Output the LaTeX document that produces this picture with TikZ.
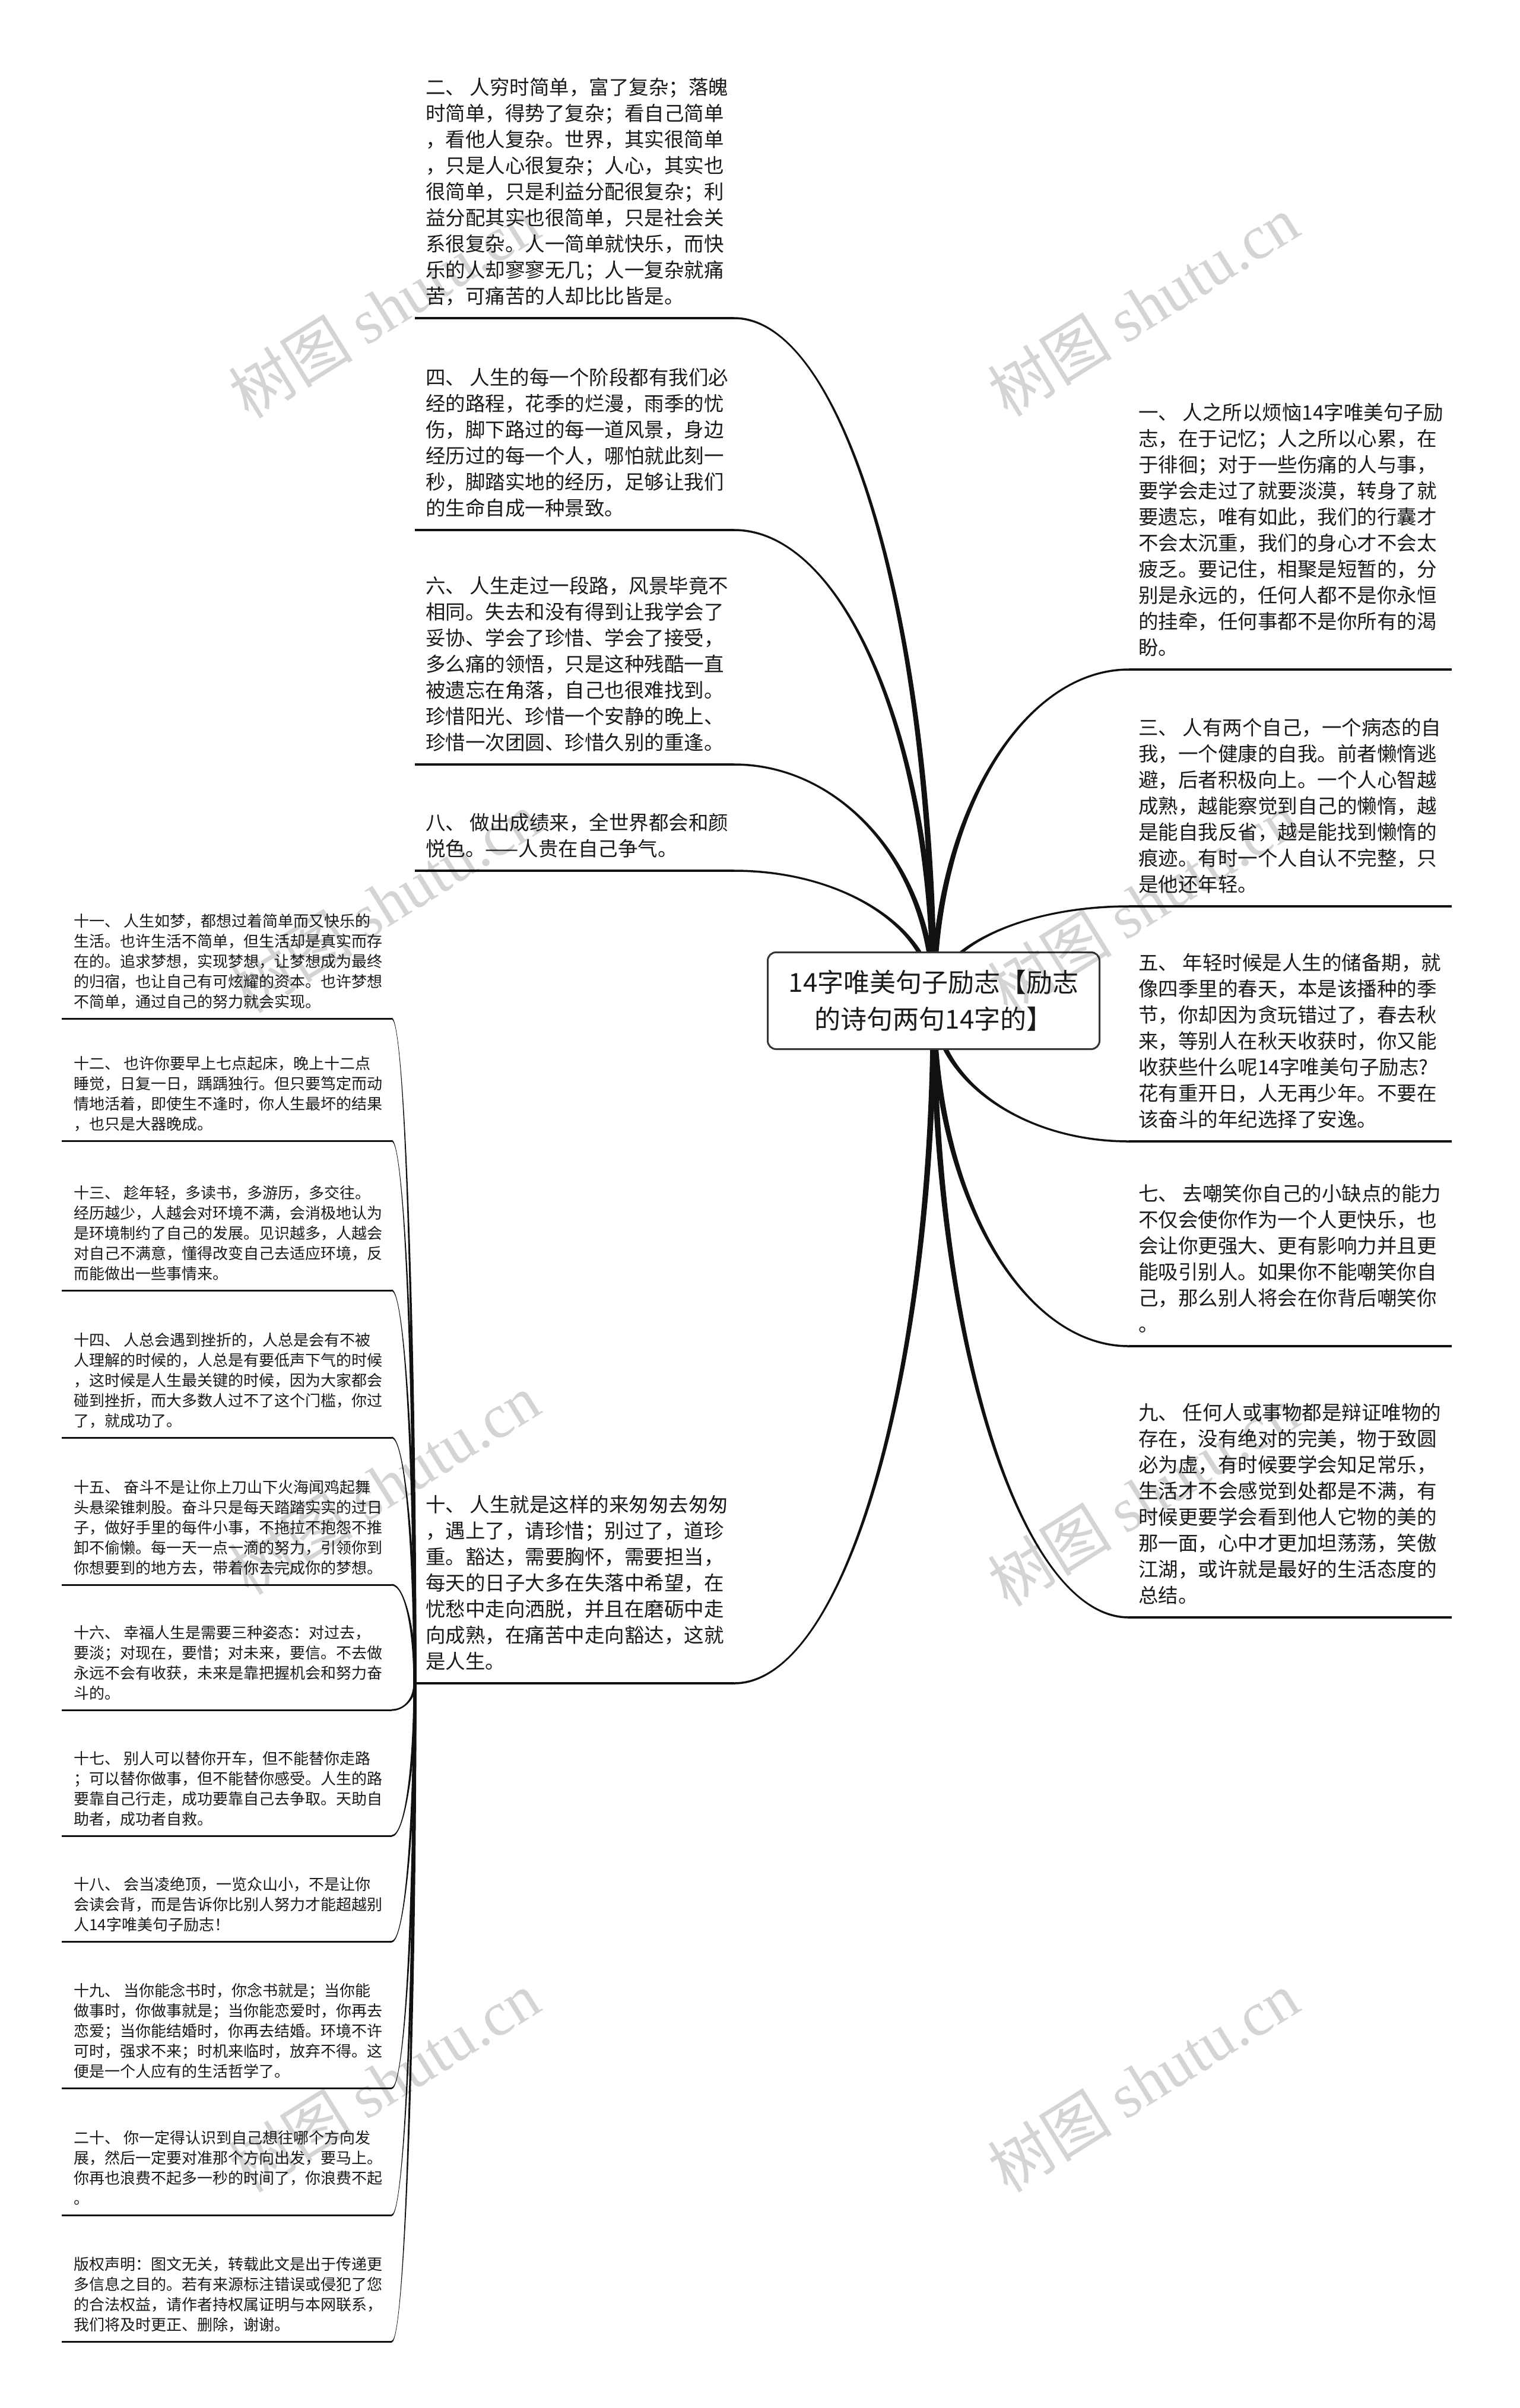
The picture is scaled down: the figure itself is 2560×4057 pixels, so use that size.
\documentclass[tikz,border=0pt]{standalone}
\usepackage{fontspec}
\setmainfont{Noto Sans CJK SC}
\newfontfamily\wmlat{Liberation Serif}
\usetikzlibrary{calc}
\definecolor{lc}{HTML}{111111}
\definecolor{txt}{HTML}{1A1A1A}
\tikzset{
  bigtxt/.style={anchor=south west, inner sep=0pt, align=left, text=txt, font=\fontsize{33.5}{44}\selectfont},
  smalltxt/.style={anchor=south west, inner sep=0pt, align=left, text=txt, font=\fontsize{26}{34}\selectfont},
  uline/.style={draw=lc, line width=3.5pt},
  sline/.style={draw=lc, line width=3pt},
  rootbox/.style={draw=lc!85, line width=3pt, fill=white, rounded corners=14pt, minimum width=559pt, minimum height=163pt, align=center, inner sep=0pt, text=txt, font=\fontsize{44}{62}\selectfont},
  wm/.style={rotate=32, text=black, text opacity=0.17, font=\fontsize{105}{105}\selectfont, inner sep=0pt}
}
% tapered curve from #1 (root, vertical tangent) to #2 (leaf, horizontal tangent)
\newcommand\branch[4]{%
\fill[lc] let \p1=(#1), \p2=(#2), \n1={sign(\x1-\x2)}, \n2={sign(\y2-\y1)} in
 ({\x1+\n1*#3},{\y1}) .. controls ({\x1+\n1*#3},{\y1+0.552*(\y2-\y1)}) and ({\x1+0.448*(\x2-\x1)},{\y2+\n2*#4}) .. ({\x2},{\y2+\n2*#4})
 -- ({\x2},{\y2-\n2*#4}) .. controls ({\x1+0.448*(\x2-\x1)},{\y2-\n2*#4}) and ({\x1-\n1*#3},{\y1+0.552*(\y2-\y1)}) .. ({\x1-\n1*#3},{\y1}) -- cycle;}
\begin{document}
\begin{tikzpicture}[x=1pt,y=-1pt]
\useasboundingbox (0,0) rectangle (2560,4057);
\fill[white] (0,0) rectangle (2560,4057);
\coordinate (root) at (1573,1686);
% right leaves
\coordinate (r1) at (1902,1128); \coordinate (r1e) at (2446,1128);
\coordinate (r3) at (1902,1527); \coordinate (r3e) at (2446,1527);
\coordinate (r5) at (1902,1923); \coordinate (r5e) at (2446,1923);
\coordinate (r7) at (1902,2268); \coordinate (r7e) at (2446,2268);
\coordinate (r9) at (1902,2725); \coordinate (r9e) at (2446,2725);
% left leaves
\coordinate (l2) at (1237,536);  \coordinate (l2e) at (699,536);
\coordinate (l4) at (1237,893);  \coordinate (l4e) at (699,893);
\coordinate (l6) at (1237,1288); \coordinate (l6e) at (699,1288);
\coordinate (l8) at (1237,1467); \coordinate (l8e) at (699,1467);
\coordinate (l10) at (1237,2836); \coordinate (l10e) at (699,2836);
% small leaves
\coordinate (s11) at (660,1716); \coordinate (s11e) at (104,1716);
\coordinate (s12) at (660,1922); \coordinate (s12e) at (104,1922);
\coordinate (s13) at (660,2174); \coordinate (s13e) at (104,2174);
\coordinate (s14) at (660,2422); \coordinate (s14e) at (104,2422);
\coordinate (s15) at (660,2670); \coordinate (s15e) at (104,2670);
\coordinate (s16) at (660,2881); \coordinate (s16e) at (104,2881);
\coordinate (s17) at (660,3093); \coordinate (s17e) at (104,3093);
\coordinate (s18) at (660,3271); \coordinate (s18e) at (104,3271);
\coordinate (s19) at (660,3518); \coordinate (s19e) at (104,3518);
\coordinate (s20) at (660,3732); \coordinate (s20e) at (104,3732);
\coordinate (scr) at (660,3945); \coordinate (scre) at (104,3945);

% connectors
\foreach \l in {r1,r3,r5,r7,r9,l2,l4,l6,l8,l10} {\branch{root}{\l}{5}{1.75}}
\foreach \l in {s11,s12,s13,s14,s15,s16,s17,s18,s19,s20,scr} {\branch{l10e}{\l}{2.6}{1.5}}
\foreach \l in {r1,r3,r5,r7,r9,l2,l4,l6,l8,l10} {\draw[uline] (\l) -- (\l e);}
\foreach \l in {s11,s12,s13,s14,s15,s16,s17,s18,s19,s20,scr} {\draw[sline] (\l) -- (\l e);}

% root
\node[rootbox] (rootnode) at (root) {14字唯美句子励志【励志\\的诗句两句14字的】};

% right texts
\node[bigtxt] (t1) at (1918,1117) {一、 人之所以烦恼14字唯美句子励\\志，在于记忆；人之所以心累，在\\于徘徊；对于一些伤痛的人与事，\\要学会走过了就要淡漠，转身了就\\要遗忘，唯有如此，我们的行囊才\\不会太沉重，我们的身心才不会太\\疲乏。要记住，相聚是短暂的，分\\别是永远的，任何人都不是你永恒\\的挂牵，任何事都不是你所有的渴\\盼。\strut};
\node[bigtxt] (t3) at (1918,1516) {三、 人有两个自己，一个病态的自\\我，一个健康的自我。前者懒惰逃\\避，后者积极向上。一个人心智越\\成熟，越能察觉到自己的懒惰，越\\是能自我反省，越是能找到懒惰的\\痕迹。有时一个人自认不完整，只\\是他还年轻。\strut};
\node[bigtxt] (t5) at (1918,1912) {五、 年轻时候是人生的储备期，就\\像四季里的春天，本是该播种的季\\节，你却因为贪玩错过了，春去秋\\来，等别人在秋天收获时，你又能\\收获些什么呢14字唯美句子励志?\\花有重开日，人无再少年。不要在\\该奋斗的年纪选择了安逸。\strut};
\node[bigtxt] (t7) at (1918,2257) {七、 去嘲笑你自己的小缺点的能力\\不仅会使你作为一个人更快乐，也\\会让你更强大、更有影响力并且更\\能吸引别人。如果你不能嘲笑你自\\己，那么别人将会在你背后嘲笑你\\。\strut};
\node[bigtxt] (t9) at (1918,2714) {九、 任何人或事物都是辩证唯物的\\存在，没有绝对的完美，物于致圆\\必为虚，有时候要学会知足常乐，\\生活才不会感觉到处都是不满，有\\时候更要学会看到他人它物的美的\\那一面，心中才更加坦荡荡，笑傲\\江湖，或许就是最好的生活态度的\\总结。\strut};

% left big texts
\node[bigtxt] (t2) at (717,525) {二、 人穷时简单，富了复杂；落魄\\时简单，得势了复杂；看自己简单\\，看他人复杂。世界，其实很简单\\，只是人心很复杂；人心，其实也\\很简单，只是利益分配很复杂；利\\益分配其实也很简单，只是社会关\\系很复杂。人一简单就快乐，而快\\乐的人却寥寥无几；人一复杂就痛\\苦，可痛苦的人却比比皆是。\strut};
\node[bigtxt] (t4) at (717,882) {四、 人生的每一个阶段都有我们必\\经的路程，花季的烂漫，雨季的忧\\伤，脚下路过的每一道风景，身边\\经历过的每一个人，哪怕就此刻一\\秒，脚踏实地的经历，足够让我们\\的生命自成一种景致。\strut};
\node[bigtxt] (t6) at (717,1277) {六、 人生走过一段路，风景毕竟不\\相同。失去和没有得到让我学会了\\妥协、学会了珍惜、学会了接受，\\多么痛的领悟，只是这种残酷一直\\被遗忘在角落，自己也很难找到。\\珍惜阳光、珍惜一个安静的晚上、\\珍惜一次团圆、珍惜久别的重逢。\strut};
\node[bigtxt] (t8) at (717,1456) {八、 做出成绩来，全世界都会和颜\\悦色。——人贵在自己争气。\strut};
\node[bigtxt] (t10) at (717,2825) {十、 人生就是这样的来匆匆去匆匆\\，遇上了，请珍惜；别过了，道珍\\重。豁达，需要胸怀，需要担当，\\每天的日子大多在失落中希望，在\\忧愁中走向洒脱，并且在磨砺中走\\向成熟，在痛苦中走向豁达，这就\\是人生。\strut};

% small texts
\node[smalltxt] (t11) at (124,1708) {十一、 人生如梦，都想过着简单而又快乐的\\生活。也许生活不简单，但生活却是真实而存\\在的。追求梦想，实现梦想，让梦想成为最终\\的归宿，也让自己有可炫耀的资本。也许梦想\\不简单，通过自己的努力就会实现。\strut};
\node[smalltxt] (t12) at (124,1914) {十二、 也许你要早上七点起床，晚上十二点\\睡觉，日复一日，踽踽独行。但只要笃定而动\\情地活着，即使生不逢时，你人生最坏的结果\\，也只是大器晚成。\strut};
\node[smalltxt] (t13) at (124,2166) {十三、 趁年轻，多读书，多游历，多交往。\\经历越少，人越会对环境不满，会消极地认为\\是环境制约了自己的发展。见识越多，人越会\\对自己不满意，懂得改变自己去适应环境，反\\而能做出一些事情来。\strut};
\node[smalltxt] (t14) at (124,2414) {十四、 人总会遇到挫折的，人总是会有不被\\人理解的时候的，人总是有要低声下气的时候\\，这时候是人生最关键的时候，因为大家都会\\碰到挫折，而大多数人过不了这个门槛，你过\\了，就成功了。\strut};
\node[smalltxt] (t15) at (124,2662) {十五、 奋斗不是让你上刀山下火海闻鸡起舞\\头悬梁锥刺股。奋斗只是每天踏踏实实的过日\\子，做好手里的每件小事，不拖拉不抱怨不推\\卸不偷懒。每一天一点一滴的努力，引领你到\\你想要到的地方去，带着你去完成你的梦想。\strut};
\node[smalltxt] (t16) at (124,2873) {十六、 幸福人生是需要三种姿态：对过去，\\要淡；对现在，要惜；对未来，要信。不去做\\永远不会有收获，未来是靠把握机会和努力奋\\斗的。\strut};
\node[smalltxt] (t17) at (124,3085) {十七、 别人可以替你开车，但不能替你走路\\；可以替你做事，但不能替你感受。人生的路\\要靠自己行走，成功要靠自己去争取。天助自\\助者，成功者自救。\strut};
\node[smalltxt] (t18) at (124,3263) {十八、 会当凌绝顶，一览众山小，不是让你\\会读会背，而是告诉你比别人努力才能超越别\\人14字唯美句子励志！\strut};
\node[smalltxt] (t19) at (124,3510) {十九、 当你能念书时，你念书就是；当你能\\做事时，你做事就是；当你能恋爱时，你再去\\恋爱；当你能结婚时，你再去结婚。环境不许\\可时，强求不来；时机来临时，放弃不得。这\\便是一个人应有的生活哲学了。\strut};
\node[smalltxt] (t20) at (124,3724) {二十、 你一定得认识到自己想往哪个方向发\\展，然后一定要对准那个方向出发，要马上。\\你再也浪费不起多一秒的时间了，你浪费不起\\。\strut};
\node[smalltxt] (tcr) at (124,3937) {版权声明：图文无关，转载此文是出于传递更\\多信息之目的。若有来源标注错误或侵犯了您\\的合法权益，请作者持权属证明与本网联系，\\我们将及时更正、删除，谢谢。\strut};

% watermarks
\foreach \wx/\wy [count=\i] in {647/518, 1926/515, 647/1520, 1926/1520, 647/2500, 1926/2520, 647/3507, 1926/3507}
  {\node[wm] (wm\i) at (\wx,\wy) {树图 {\wmlat shutu.cn}};}
\end{tikzpicture}
\end{document}
